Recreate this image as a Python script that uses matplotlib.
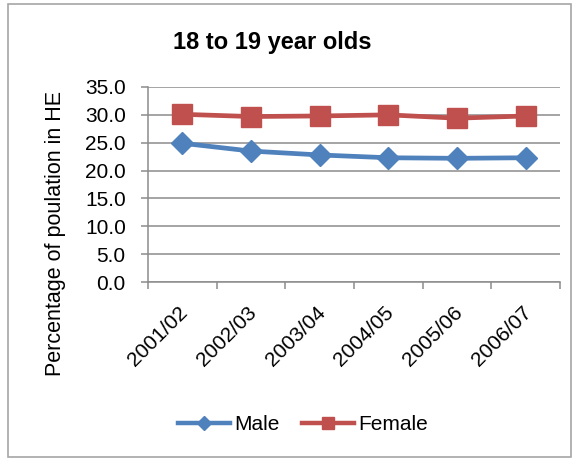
import numpy as np
import matplotlib
matplotlib.use("Agg")
import matplotlib.pyplot as plt
import matplotlib.transforms as mtransforms
from matplotlib.patches import Rectangle
from matplotlib.lines import Line2D

plt.rcParams['font.family'] = ['Liberation Sans', 'DejaVu Sans']

years = ['2001/02', '2002/03', '2003/04', '2004/05', '2005/06', '2006/07']
male = [24.9, 23.5, 22.8, 22.3, 22.2, 22.3]
female = [30.1, 29.7, 29.8, 30.0, 29.4, 29.8]

blue = '#4F81BD'
red = '#C0504D'
grid_col = '#8C8C8C'

fig = plt.figure(figsize=(5.75, 4.59), dpi=100)
fig.patches.append(Rectangle((8/575, 1 - 457/459), 563/575, 453/459, transform=fig.transFigure,
                             fill=False, edgecolor='#A6A6A6', lw=1.2))

ax = fig.add_axes([148/575, 1 - 282/459, 412/575, 195/459])
x = np.arange(len(years))
ax.plot(x, male, color=blue, lw=3.4, marker='D', ms=11.5, label='Male')
ax.plot(x, female, color=red, lw=3.4, marker='s', ms=14, label='Female')

ax.set_xlim(-0.5, len(years) - 0.5)
ax.set_ylim(0, 35)
ax.set_yticks(np.arange(0, 36, 5))
ax.set_yticklabels(['%.1f' % v for v in np.arange(0, 36, 5)])
ax.yaxis.grid(True, color=grid_col, lw=1.1)
ax.set_axisbelow(True)

ax.set_xticks(x)
ax.set_xticklabels(years, rotation=45, ha='right', va='top', rotation_mode='anchor')
ax.set_xticks(np.arange(-0.5, len(years)), minor=True)
ax.tick_params(axis='x', which='major', length=0, pad=15, labelsize=15)
ax.tick_params(axis='x', which='minor', length=5, color=grid_col, width=1.1)
ax.tick_params(axis='y', length=5, color=grid_col, width=1.1, labelsize=15, pad=11)
shift = mtransforms.ScaledTranslation(-4/100, 0, fig.dpi_scale_trans)
for lab in ax.get_xticklabels():
    lab.set_transform(lab.get_transform() + shift)

for s in ['top', 'right']:
    ax.spines[s].set_visible(False)
for s in ['left', 'bottom']:
    ax.spines[s].set_color(grid_col)
    ax.spines[s].set_linewidth(1.1)

fig.text(272/575, 1 - 42/459, '18 to 19 year olds', ha='center', va='center',
         fontsize=17, fontweight='bold')
fig.text(55/575, 1 - 233/459, 'Percentage of poulation in HE', ha='center', va='center',
         rotation=90, fontsize=15.5)

handles = [Line2D([], [], color=blue, lw=3.2, marker='D', ms=7),
           Line2D([], [], color=red, lw=3.2, marker='s', ms=8)]
fig.legend(handles, ['Male', 'Female'], loc='center', bbox_to_anchor=(303/575, 1 - 425/459),
           ncol=2, frameon=False, fontsize=15, handlelength=2.5, handletextpad=0.2,
           columnspacing=1.1)

fig.savefig('out.png', dpi=100)
